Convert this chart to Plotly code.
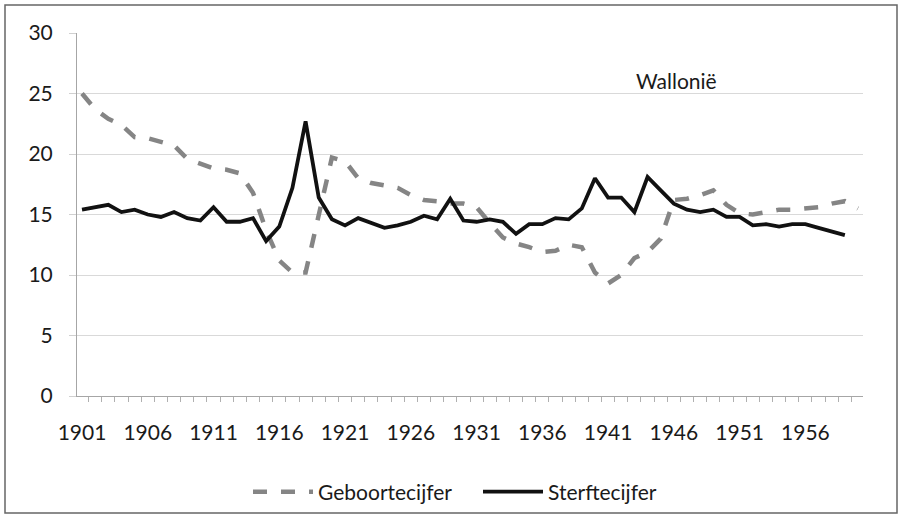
import plotly.graph_objects as go

years = list(range(1901, 1961))

geboortecijfer = [25.0, 23.7, 22.9, 22.4, 21.4, 21.3, 21.0, 20.7, 19.6, 19.2,
                  18.8, 18.7, 18.4, 16.8, 13.7, 11.2, 10.2, 10.2, 14.8, 19.7,
                  19.4, 18.0, 17.6, 17.4, 17.2, 16.6, 16.2, 16.1, 15.9, 15.9,
                  15.6, 14.3, 13.1, 12.6, 12.3, 11.9, 12.0, 12.5, 12.3, 10.2,
                  9.3, 10.0, 11.4, 11.9, 13.0, 16.2, 16.3, 16.6, 17.0, 15.8,
                  15.1, 15.0, 15.2, 15.4, 15.4, 15.5, 15.6, 15.9, 16.1, 15.5]

sterftecijfer = [15.4, 15.6, 15.8, 15.2, 15.4, 15.0, 14.8, 15.2, 14.7, 14.5,
                 15.6, 14.4, 14.4, 14.7, 12.8, 14.0, 17.2, 22.7, 16.4, 14.6,
                 14.1, 14.7, 14.3, 13.9, 14.1, 14.4, 14.9, 14.6, 16.3, 14.5,
                 14.4, 14.6, 14.4, 13.4, 14.2, 14.2, 14.7, 14.6, 15.5, 18.0,
                 16.4, 16.4, 15.2, 18.1, 17.0, 15.9, 15.4, 15.2, 15.4, 14.8,
                 14.8, 14.1, 14.2, 14.0, 14.2, 14.2, 13.9, 13.6, 13.3]

x_tick_vals = list(range(1901, 1960, 5))
x_tick_text = [str(v) for v in x_tick_vals]
y_tick_vals = [0, 5, 10, 15, 20, 25, 30]

series_names = ["Geboortecijfer", "Sterftecijfer"]
region_label = "Wallonië"

FONT = "Lato"
FS = 21
TXT = "#1a1a1a"
W, H = 901, 519
ML, MR, MT, MB = 77, 38, 33, 123
PW, PH = W - ML - MR, H - MT - MB

def px_to_paper_x(px):
    return (px - ML) / PW

def px_to_paper_y(py):
    return (H - MB - py) / PH

fig = go.Figure()
fig.add_trace(go.Scatter(
    x=years, y=geboortecijfer, mode="lines", name=series_names[0],
    line=dict(color="#858585", width=4.5, dash="14px,14px"),
))
fig.add_trace(go.Scatter(
    x=years[:len(sterftecijfer)], y=sterftecijfer, mode="lines", name=series_names[1],
    line=dict(color="#111111", width=3.8),
))

fig.update_layout(
    width=W, height=H,
    margin=dict(l=ML, r=MR, t=MT, b=MB, pad=0, autoexpand=False),
    paper_bgcolor="white", plot_bgcolor="white",
    font=dict(family=FONT, size=FS, color=TXT),
    showlegend=True,
    legend=dict(orientation="h", x=px_to_paper_x(248), xanchor="left",
                y=px_to_paper_y(492), yanchor="middle",
                font=dict(family=FONT, size=FS, color=TXT),
                bgcolor="rgba(0,0,0,0)", entrywidth=155, itemwidth=60),
    xaxis=dict(
        range=[1900.62, 1960.38], tickmode="array", tickvals=x_tick_vals,
        ticktext=x_tick_text, ticks="", showgrid=False, zeroline=False,
        showline=True, linecolor="#a6a6a6", linewidth=1, automargin=False,
        ticklabelstandoff=18,
        tickfont=dict(family=FONT, size=FS, color=TXT),
        minor=dict(tickmode="linear", tick0=1900.5, dtick=1, ticks="outside",
                   ticklen=5, tickcolor="#b0b0b0", showgrid=False),
    ),
    yaxis=dict(
        range=[0, 30], tickmode="array", tickvals=y_tick_vals,
        ticks="outside", ticklen=7, tickcolor="#d0d0d0",
        showgrid=True, gridcolor="#d9d9d9", gridwidth=1, zeroline=False,
        showline=True, linecolor="#a6a6a6", linewidth=1, automargin=False,
        ticklabelstandoff=12,
        tickfont=dict(family=FONT, size=FS, color=TXT),
    ),
    annotations=[dict(
        text=region_label, xref="paper", yref="paper",
        x=px_to_paper_x(676), y=px_to_paper_y(80), xanchor="center", yanchor="middle",
        showarrow=False, font=dict(family=FONT, size=FS, color=TXT),
    )],
    shapes=[dict(
        type="rect", xref="paper", yref="paper",
        x0=px_to_paper_x(5), x1=px_to_paper_x(897),
        y0=px_to_paper_y(513), y1=px_to_paper_y(5),
        line=dict(color="#666666", width=1.5), fillcolor="rgba(0,0,0,0)", layer="below",
    )],
)

fig.write_html(
    "out.html",
    config={"displayModeBar": False},
    post_script="document.body.style.margin='0px';document.body.style.overflow='hidden';",
)
